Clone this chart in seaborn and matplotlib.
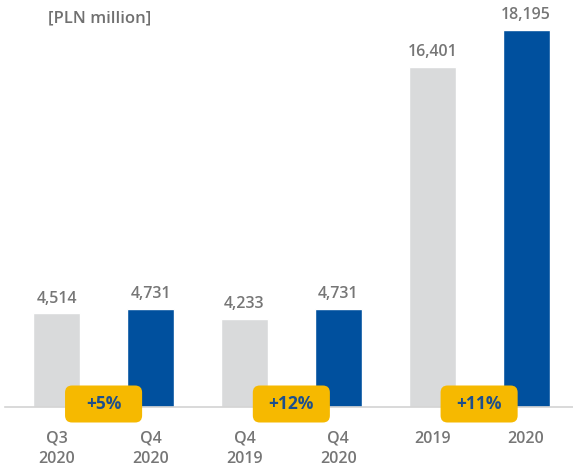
import matplotlib.pyplot as plt
import pandas as pd
import seaborn as sns
from matplotlib.patches import FancyBboxPatch

periods = ["Q3\n2020", "Q4\n2020", "Q4\n2019", "Q4\n2020", "2019", "2020"]
values = [4514, 4731, 4233, 4731, 16401, 18195]
is_current = [False, True, False, True, False, True]
changes = ["+5%", "+12%", "+11%"]

grey_bar = "#d9dadb"
blue_bar = "#00509e"
text_grey = "#767676"
badge_yellow = "#f6b900"
badge_text = "#1d4f8c"

df = pd.DataFrame({"pos": range(len(values)), "value": values})
colors = {i: (blue_bar if cur else grey_bar) for i, cur in enumerate(is_current)}

sns.set_style("white")
plt.rcParams["font.family"] = ["Open Sans", "DejaVu Sans"]

fig = plt.figure(figsize=(5.73, 4.71), dpi=100)
ax = fig.add_axes([5 / 573, 64 / 471, 568 / 573, 400 / 471])

sns.barplot(data=df, x="pos", y="value", hue="pos", palette=colors,
            legend=False, width=0.5, saturation=1, ax=ax)

ax.set_xlim(-0.55, 5.5)
ax.set_ylim(0, 400 / 377 * 18195)

for i, v in enumerate(values):
    ax.annotate(f"{v:,}", (i, v), xytext=(0, 5), textcoords="offset points",
                ha="center", va="bottom", fontsize=11.5, fontweight="semibold",
                color=text_grey)

# yoy badges sitting on the baseline between each pair
ux = 1 / 93.8
uy = (400 / 377 * 18195) / 400
for k, label in enumerate(changes):
    cx = 2 * k + 0.5
    cy = 3 * uy
    w, h = 77 * ux, 37 * uy
    box = FancyBboxPatch((cx - w / 2, cy - h / 2), w, h,
                         boxstyle=f"round,pad=0,rounding_size={7 * ux}",
                         mutation_aspect=uy / ux, transform=ax.transData,
                         facecolor=badge_yellow, edgecolor="none",
                         clip_on=False, zorder=5)
    ax.add_patch(box)
    ax.text(cx, cy, label, ha="center", va="center", fontsize=12.5,
            fontweight="bold", color=badge_text, zorder=6, clip_on=False)

ax.set_xticks(range(len(periods)))
ax.set_xticklabels(periods, fontsize=11.5, fontweight="semibold",
                   color=text_grey, linespacing=1.4)
ax.tick_params(axis="x", length=0, pad=17)
ax.set_yticks([])
ax.set_xlabel("")
ax.set_ylabel("")
for side in ["top", "right", "left"]:
    ax.spines[side].set_visible(False)
ax.spines["bottom"].set_color("#d3d3d3")
ax.spines["bottom"].set_linewidth(1.2)
ax.spines["bottom"].set_zorder(1)

fig.text(48 / 573, 1 - 18 / 471, "[PLN million]", fontsize=12,
         fontweight="semibold", color="#707070", ha="left", va="center")

fig.savefig("out.png", dpi=100)
